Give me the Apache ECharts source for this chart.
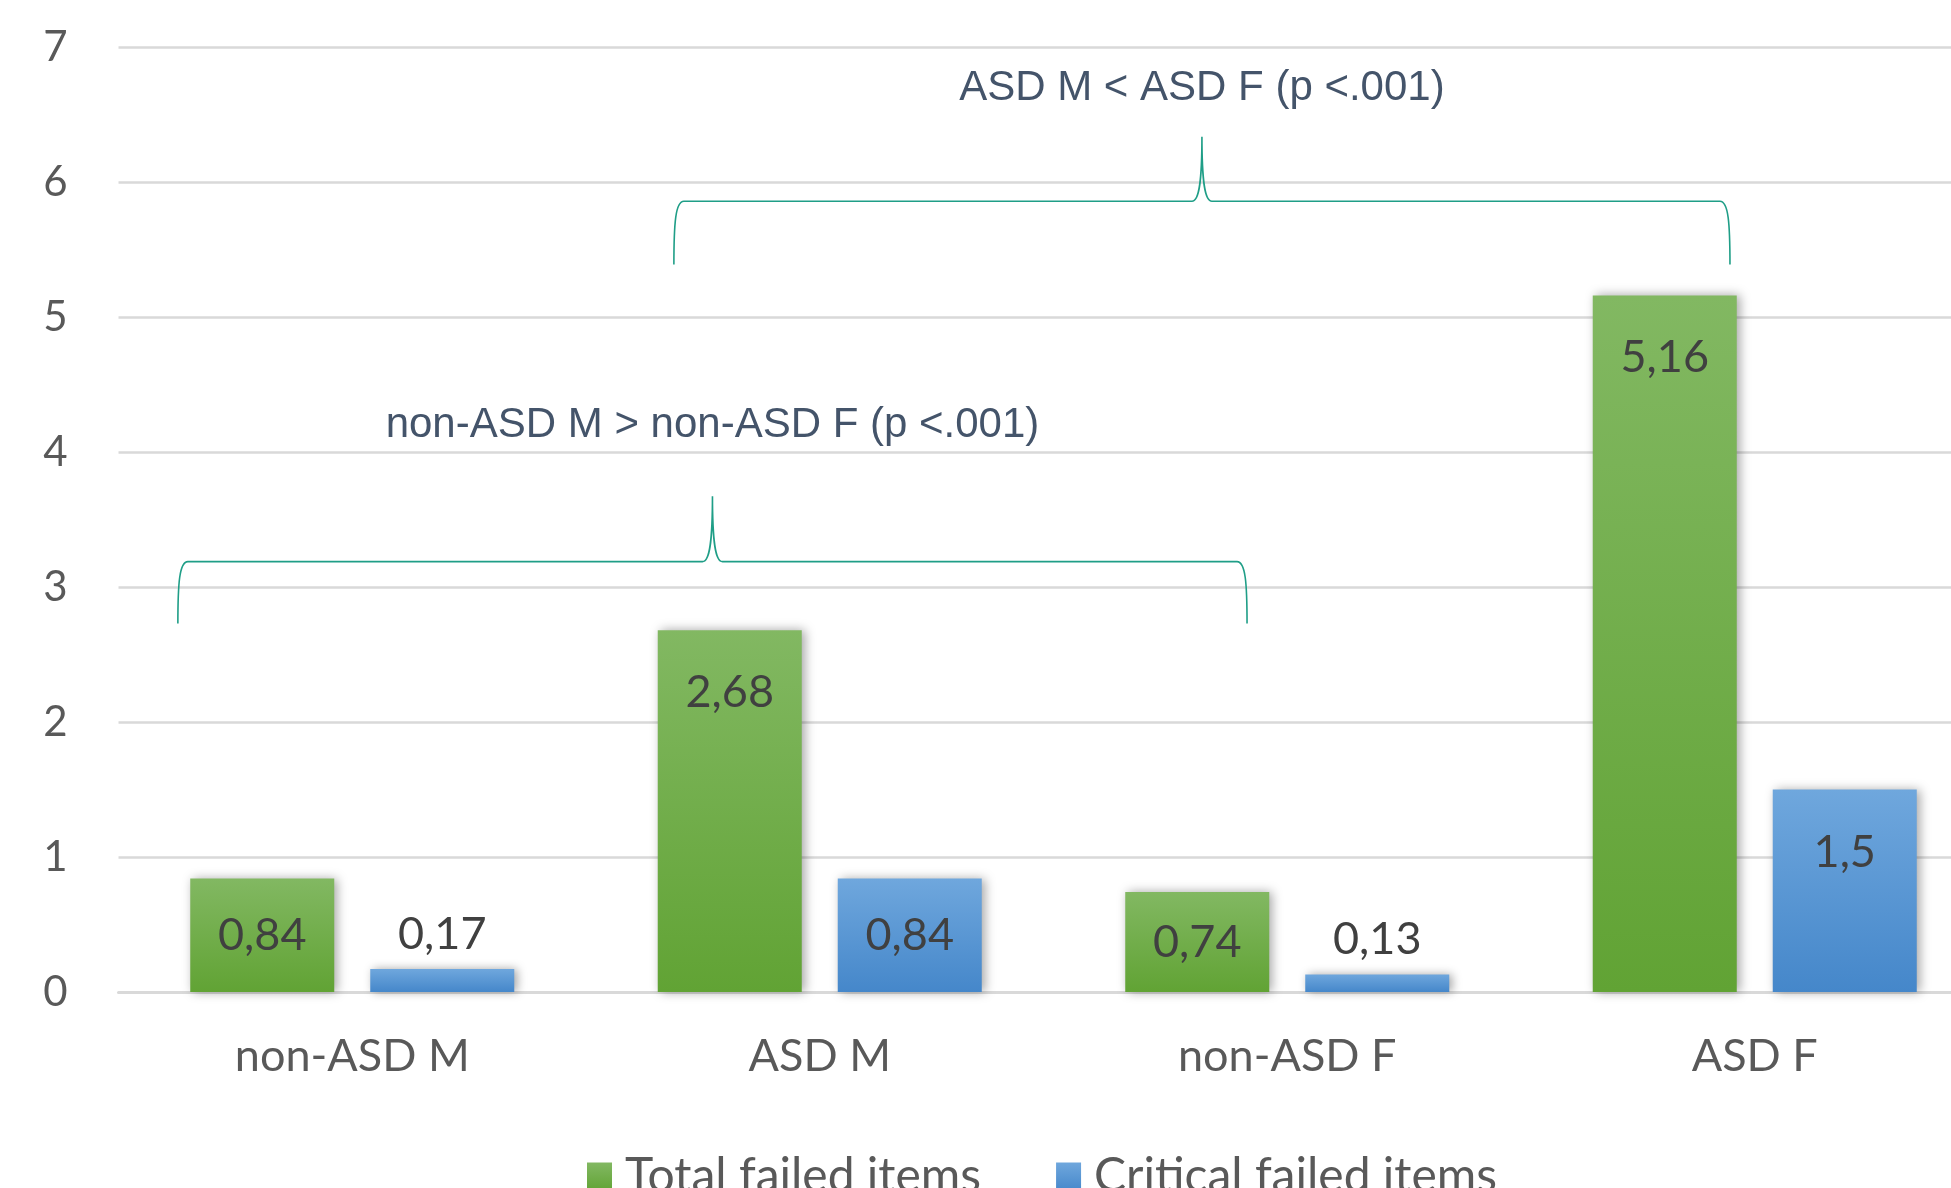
<!DOCTYPE html>
<html>
<head>
<meta charset="utf-8">
<script src="https://cdn.jsdelivr.net/npm/echarts@6/dist/echarts.min.js"></script>
<style>
  html, body { margin: 0; padding: 0; background: #fff; }
  #chart { width: 1951px; height: 1188px; }
</style>
</head>
<body>
<div id="chart"></div>
<script type="text/javascript">
	var categories = ['non-ASD M', 'ASD M', 'non-ASD F', 'ASD F'];
	var totalFailed = [0.84, 2.68, 0.74, 5.16];
	var criticalFailed = [0.17, 0.84, 0.13, 1.5];
	var seriesNames = ['Total failed items', 'Critical failed items'];
	var yTicks = [0, 1, 2, 3, 4, 5, 6, 7];
	var braceLabels = ['non-ASD M > non-ASD F (p <.001)', 'ASD M < ASD F (p <.001)'];

	// brace anchors: [cat, offset(band), cat, offset(band), foot, bar, tip, text] (axis units)
	var braceAnchors = [
		[0, -0.373, 2, -0.086, 2.729, 3.188, 3.673, 4.2],
		[1, -0.312, 3, -0.053, 5.388, 5.857, 6.336, 6.696]
	];

	var axisFont = 'Lato, "Liberation Sans", sans-serif';

	function grad(top, bottom) {
		return {
			type: 'linear', x: 0, y: 0, x2: 0, y2: 1,
			colorStops: [{offset: 0, color: top}, {offset: 1, color: bottom}]
		};
	}

	// short bars: label above; small bars: centred; others: inside end
	function barData(vals) {
		return vals.map(function (v) {
			if (v < 0.5) {
				return {value: v, label: {position: 'top', distance: 12}};
			}
			if (v < 1) {
				return {value: v, label: {position: 'inside'}};
			}
			return v;
		});
	}

	var barLabel = {
		show: true,
		position: 'insideTop',
		distance: 40,
		fontFamily: axisFont,
		fontSize: 45,
		color: '#404040',
		formatter: function (p) { return String(p.value).replace('.', ','); }
	};

	var barShadow = {
		shadowBlur: 10,
		shadowColor: 'rgba(0,0,0,0.35)',
		shadowOffsetX: 3,
		shadowOffsetY: 0
	};

	var myChart = echarts.init(document.getElementById('chart'));
	var option = {
		animation: false,
		backgroundColor: '#ffffff',
		grid: {
			left: 118.5,
			top: 47,
			width: 1870,
			height: 945,
			containLabel: false,
			outerBoundsMode: 'none'
		},
		legend: {
			data: seriesNames,
			left: 582,
			top: 1148,
			icon: 'rect',
			itemWidth: 25,
			itemHeight: 29,
			itemGap: 75,
			textStyle: {
				fontFamily: axisFont,
				fontSize: 48,
				color: '#595959',
				padding: [0, 0, 0, 8]
			}
		},
		xAxis: {
			type: 'category',
			data: categories,
			axisTick: {show: false},
			axisLine: {lineStyle: {color: '#d9d9d9', width: 3}},
			axisLabel: {
				fontFamily: axisFont,
				fontSize: 45,
				color: '#595959',
				margin: 42
			}
		},
		yAxis: {
			type: 'value',
			min: 0,
			max: yTicks[yTicks.length - 1],
			interval: 1,
			axisLine: {show: false},
			axisTick: {show: false},
			splitLine: {lineStyle: {color: '#d9d9d9', width: 2.5}},
			axisLabel: {
				fontFamily: axisFont,
				fontSize: 42,
				color: '#595959',
				margin: 51
			}
		},
		series: [
			{
				name: seriesNames[0],
				type: 'bar',
				data: barData(totalFailed),
				barWidth: 144,
				barGap: '25%',
				itemStyle: Object.assign({color: grad('#82b862', '#61a334')}, barShadow),
				label: barLabel
			},
			{
				name: seriesNames[1],
				type: 'bar',
				data: barData(criticalFailed),
				barWidth: 144,
				barGap: '25%',
				itemStyle: Object.assign({color: grad('#6fa7dd', '#4587ca')}, barShadow),
				label: barLabel
			},
			{
				type: 'custom',
				silent: true,
				clip: false,
				z: 10,
				data: braceAnchors,
				renderItem: function (params, api) {
					var c0 = api.coord([0, 0]);
					var bw = api.coord([1, 0])[0] - c0[0];
					var px = function (i, f) { return api.coord([i, 0])[0] + f * bw; };
					var py = function (v) { return api.coord([0, v])[1]; };
					var x0 = px(api.value(0), api.value(1));
					var x1 = px(api.value(2), api.value(3));
					var xm = (x0 + x1) / 2;
					var yF = py(api.value(4)), yB = py(api.value(5));
					var yT = py(api.value(6)), yL = py(api.value(7));
					var r = 10;
					var k = (yF - yB) * 0.35;
					var d = 'M' + x0 + ',' + yF +
						' C' + x0 + ',' + (yB + k) + ' ' + (x0 + 1.5) + ',' + yB + ' ' + (x0 + r) + ',' + yB +
						' L' + (xm - r) + ',' + yB +
						' C' + (xm - 3) + ',' + yB + ' ' + xm + ',' + (yB - 18) + ' ' + xm + ',' + yT +
						' M' + xm + ',' + yT +
						' C' + xm + ',' + (yB - 18) + ' ' + (xm + 3) + ',' + yB + ' ' + (xm + r) + ',' + yB +
						' L' + (x1 - r) + ',' + yB +
						' C' + (x1 - 1.5) + ',' + yB + ' ' + x1 + ',' + (yB + k) + ' ' + x1 + ',' + yF;
					return {
						type: 'group',
						children: [
							{
								type: 'path',
								shape: {pathData: d},
								style: {fill: 'none', stroke: '#1f9e87', lineWidth: 1.6}
							},
							{
								type: 'text',
								x: xm,
								y: yL,
								style: {
									text: braceLabels[params.dataIndex],
									fontFamily: '"Liberation Sans", Arial, sans-serif',
									fontSize: 42,
									fill: '#44546a',
									align: 'center',
									verticalAlign: 'middle'
								}
							}
						]
					};
				}
			}
		]
	};
	myChart.setOption(option);
	window.addEventListener("resize", function () {
		myChart.resize();
	});
</script>
</body>
</html>
